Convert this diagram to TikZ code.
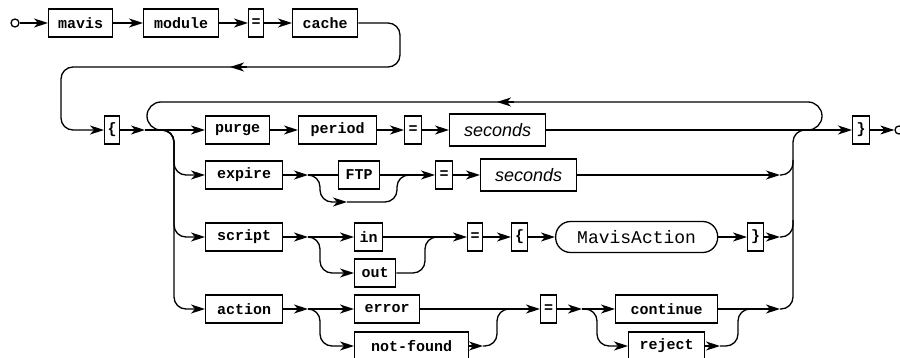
\documentclass[tikz,border=0pt]{standalone}
\usepackage{fontspec}
\usetikzlibrary{arrows.meta}
\newfontfamily\rrmono{Liberation Mono}
\newfontfamily\rrsans{Liberation Sans}
\tikzset{
 term/.style={draw, line width=1.3pt, minimum height=28pt, inner sep=0pt, anchor=west, font=\rrmono\bfseries\fontsize{15}{15}\selectfont},
 nterm/.style={draw, line width=1.3pt, minimum height=32pt, inner sep=0pt, anchor=west, font=\rrsans\itshape\fontsize{18}{18}\selectfont},
 refbox/.style={draw, rounded corners=15pt, line width=1.3pt, minimum height=31pt, inner sep=0pt, anchor=west, font=\rrmono\fontsize{18}{18}\selectfont},
 arr/.style={-{Stealth[length=14pt,width=9pt,inset=4pt]}, line width=1.3pt},
 wire/.style={line width=1.3pt, rounded corners=12pt},
 endpt/.style={circle, draw, line width=1.3pt, minimum size=8pt, inner sep=0pt},
}
\begin{document}
\begin{tikzpicture}[x=1pt,y=-1pt]
\useasboundingbox (0,0) rectangle (900,358);
% row 1
\node[endpt] (start) at (15,23) {};
\node[term, minimum width=64pt] (mavis) at (48,23) {mavis};
\node[term, minimum width=75pt] (module) at (143,23) {module};
\node[term, minimum width=15pt] (eqa) at (248,23) {=};
\node[term, minimum width=65pt] (cache) at (292,23) {cache};
% row 2
\node[term, minimum width=15pt] (lbr) at (104,130) {\{};
\node[term, minimum width=64pt] (purge) at (205,130) {purge};
\node[term, minimum width=78pt] (period) at (298,130) {period};
\node[term, minimum width=17pt] (eqb) at (404,130) {=};
\node[nterm, minimum width=96pt] (secA) at (449,130) {seconds};
\node[term, minimum width=17pt] (rbr) at (852,130) {\}};
\node[endpt] (stop) at (899,130) {};
% expire row
\node[term, minimum width=77pt] (expire) at (205,175) {expire};
\node[term, minimum width=41pt] (ftp) at (338,175) {FTP};
\node[term, minimum width=17pt] (eqc) at (435,175) {=};
\node[nterm, minimum width=96pt] (secB) at (480,175) {seconds};
% script row
\node[term, minimum width=77pt] (script) at (205,237) {script};
\node[term, minimum width=28pt] (in) at (354,237) {in};
\node[term, minimum width=41pt] (out) at (354,273) {out};
\node[term, minimum width=15pt] (eqd) at (467,237) {=};
\node[term, minimum width=16pt] (lbs) at (511,237) {\{};
\node[refbox, minimum width=162pt] (mact) at (555,237) {MavisAction};
\node[term, minimum width=16pt] (rbs) at (747,237) {\}};
% action row
\node[term, minimum width=77pt] (action) at (205,309) {action};
\node[term, minimum width=65pt] (error) at (354,309) {error};
\node[term, minimum width=114pt] (nf) at (354,346) {not-found};
\node[term, minimum width=16pt] (eqe) at (540,309) {=};
\node[term, minimum width=102pt] (cont) at (615,309) {continue};
\node[term, minimum width=76pt] (rej) at (628,346) {reject};
% coordinates
\coordinate (jA) at (145,130);
\coordinate (jB) at (308,175);
\coordinate (jC) at (308,237);
\coordinate (jD) at (308,309);
\coordinate (jE) at (582,309);
\coordinate (tB) at (780,175);
\coordinate (tC) at (780,237);
\coordinate (tD) at (780,309);
\coordinate (tN) at (483,346);
\coordinate (tR) at (720,346);
\coordinate (tF) at (347,202);
% row 1 connectors
\draw[arr] (start) -- (mavis);
\draw[arr] (mavis) -- (module);
\draw[arr] (module) -- (eqa);
\draw[arr] (eqa) -- (cache);
\draw[wire, arr] (cache.east) -- (400,23) -- (400,67) -- (61,67) -- (61,130) -- (lbr.west);
\draw[arr] (247,67) -- (230,67);
% row 2
\draw[arr] (lbr) -- (jA);
\draw[arr] (jA) -- (purge);
\draw[arr] (purge) -- (period);
\draw[arr] (period) -- (eqb);
\draw[arr] (eqb) -- (secA);
\draw[arr] (secA) -- (rbr);
\draw[arr] (rbr) -- (stop);
\draw[wire, rounded corners=14pt] (795,130) -- (822,130) -- (822,102) -- (147,102) -- (147,130) -- (175,130);
\draw[arr] (514,102) -- (497,102);
% branches down
\draw[wire, arr] (jA) -- (174,130) -- (174,175) -- (expire.west);
\draw[wire, arr] (jA) -- (174,130) -- (174,237) -- (script.west);
\draw[wire, arr] (jA) -- (174,130) -- (174,309) -- (action.west);
% expire row
\draw[arr] (expire) -- (jB);
\draw[line width=1.3pt] (jB) -- (ftp);
\draw[wire, arr] (jB) -- (320,175) -- (320,202) -- (tF);
\draw[wire] (tF) -- (397,202) -- (397,175) -- (412,175);
\draw[arr] (ftp) -- (eqc);
\draw[arr] (eqc) -- (secB);
\draw[arr] (secB) -- (tB);
\draw[wire] (tB) -- (793,175) -- (793,160);
% script row
\draw[arr] (script) -- (jC);
\draw[arr] (jC) -- (in);
\draw[wire, arr] (jC) -- (320,237) -- (320,273) -- (out.west);
\draw[arr] (in) -- (eqd);
\draw[wire] (out.east) -- (425,273) -- (425,237) -- (440,237);
\draw[arr] (eqd) -- (lbs);
\draw[arr] (lbs) -- (mact);
\draw[arr] (mact) -- (rbs);
\draw[arr] (rbs) -- (tC);
\draw[wire] (tC) -- (793,237) -- (793,220);
% action row
\draw[arr] (action) -- (jD);
\draw[arr] (jD) -- (error);
\draw[wire, arr] (jD) -- (320,309) -- (320,346) -- (nf.west);
\draw[arr] (error) -- (eqe);
\draw[arr] (nf) -- (tN);
\draw[wire] (tN) -- (497,346) -- (497,309) -- (512,309);
\draw[arr] (eqe) -- (jE);
\draw[arr] (jE) -- (cont);
\draw[wire, arr] (jE) -- (597,309) -- (597,346) -- (rej.west);
\draw[arr] (rej) -- (tR);
\draw[wire] (tR) -- (738,346) -- (738,309) -- (752,309);
\draw[arr] (cont) -- (tD);
\draw[wire] (tD) -- (793,309) -- (793,130) -- (820,130);
\end{tikzpicture}
\end{document}
